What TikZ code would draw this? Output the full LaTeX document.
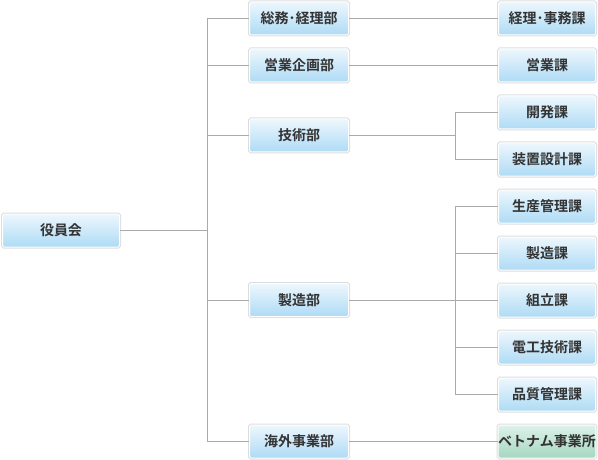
\documentclass[tikz,border=0pt]{standalone}
\usepackage{fontspec}
\newfontfamily\jp{Noto Sans CJK JP}[BoldFont={Noto Sans CJK JP Bold}]
\definecolor{linegray}{HTML}{AAAAAA}
\definecolor{boxedge}{HTML}{DDDDDD}
\definecolor{txt}{HTML}{333333}
\definecolor{bluetop}{HTML}{EDF7FD}
\definecolor{bluebot}{HTML}{AEDBF5}
\definecolor{greentop}{HTML}{DDF2EA}
\definecolor{greenbot}{HTML}{A6D6C1}
\tikzset{
  orgbox/.style={preaction={draw=boxedge, line width=3pt},
    draw=white, line width=1pt, top color=bluetop, bottom color=bluebot,
    rounded corners=1.5pt, minimum height=33pt, inner sep=0pt,
    font=\jp\bfseries\fontsize{14}{15}\selectfont, text=txt},
  boxA/.style={orgbox, minimum width=117pt},
  boxB/.style={orgbox, minimum width=99pt},
  boxC/.style={orgbox, minimum width=97pt},
  greenbox/.style={top color=greentop, bottom color=greenbot},
  conn/.style={draw=linegray, line width=1pt}
}
\begin{document}
\begin{tikzpicture}[x=1pt,y=-1pt]
\useasboundingbox (0,0) rectangle (598,460);
% column 1
\node[boxA] (board) at (61,230.5) {役員会};
% column 2
\node[boxB] (soumu) at (299,18.5) {総務･経理部};
\node[boxB] (eikiku) at (299,65.5) {営業企画部};
\node[boxB] (gijutsu) at (299,135.5) {技術部};
\node[boxB] (seizo) at (299,300) {製造部};
\node[boxB] (kaigai) at (299,441.5) {海外事業部};
% column 3
\node[boxC] (keiri) at (547,18.5) {経理･事務課};
\node[boxC] (eigyo) at (547,65.5) {営業課};
\node[boxC] (kaihatsu) at (547,112.5) {開発課};
\node[boxC] (sochi) at (547,159.5) {装置設計課};
\node[boxC] (seisan) at (547,206.5) {生産管理課};
\node[boxC] (seizoka) at (547,253.5) {製造課};
\node[boxC] (kumitate) at (547,300.5) {組立課};
\node[boxC] (denko) at (547,347.5) {電工技術課};
\node[boxC] (hinshitsu) at (547,394.5) {品質管理課};
\node[boxC, greenbox] (vietnam) at (547,441.5) {ベトナム事業所};
% trunk coordinates
\coordinate (trunkA) at (207,0);
\coordinate (trunkB) at (455,0);
% connectors from board
\draw[conn] (board.east) -- (board.east -| trunkA);
\draw[conn] (soumu.west -| trunkA) -- (kaigai.west -| trunkA);
\foreach \n in {soumu,eikiku,gijutsu,seizo,kaigai}
  \draw[conn] (\n.west -| trunkA) -- (\n.west);
% direct links
\draw[conn] (soumu.east) -- (keiri.west);
\draw[conn] (eikiku.east) -- (eigyo.west);
\draw[conn] (kaigai.east) -- (vietnam.west);
% gijutsu branch
\draw[conn] (gijutsu.east) -- (gijutsu.east -| trunkB);
\draw[conn] (kaihatsu.west -| trunkB) -- (sochi.west -| trunkB);
\foreach \n in {kaihatsu,sochi}
  \draw[conn] (\n.west -| trunkB) -- (\n.west);
% seizo branch
\draw[conn] (seizo.east) -- (seizo.east -| trunkB);
\draw[conn] (seisan.west -| trunkB) -- (hinshitsu.west -| trunkB);
\foreach \n in {seisan,seizoka,kumitate,denko,hinshitsu}
  \draw[conn] (\n.west -| trunkB) -- (\n.west);
\end{tikzpicture}
\end{document}
